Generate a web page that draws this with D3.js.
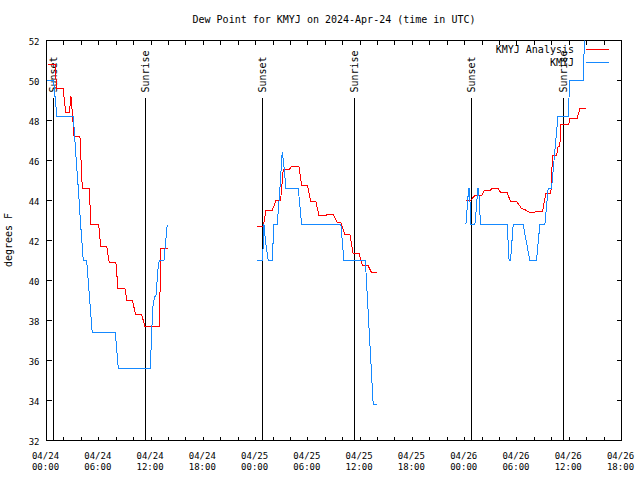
<!DOCTYPE html>
<html><head><meta charset="utf-8">
<script src="https://cdn.jsdelivr.net/npm/d3@7"></script>
<style>
body{margin:0;background:#fff}
svg text{font-family:"DejaVu Sans Mono","Liberation Mono",monospace;fill:#000}
</style></head><body>
<script>
// ---------------- data ----------------
const title = "Dew Point for KMYJ on 2024-Apr-24 (time in UTC)";
const yLabel = "degrees F";
const startTime = Date.UTC(2024, 3, 24, 0, 0);
const endTime = Date.UTC(2024, 3, 26, 18, 0);
const yTicks = [32, 34, 36, 38, 40, 42, 44, 46, 48, 50, 52];
const seriesNames = ["KMYJ Analysis", "KMYJ"];
const seriesColors = ["#ff0000", "#1589ff"];

// [hours since 2024-04-24 00:00 UTC, degrees F]
const analysisSeg1 = [[0.2,50.8],[0.98,50.8],[1.17,49.6],[1.93,49.6],[2.04,49.0],[2.24,48.4],[2.62,48.4],[2.81,49.2],[3.0,48.2],[3.16,47.2],[3.84,47.2],[4.07,45.0],[4.11,44.6],[4.91,44.6],[5.1,42.8],[5.99,42.8],[6.22,41.7],[6.91,41.7],[7.2,40.9],[7.97,40.9],[8.2,39.6],[9.0,39.6],[9.24,39.0],[9.85,39.0],[10.24,38.3],[10.92,38.3],[11.3,37.7],[12.94,37.7],[13.14,41.6],[13.9,41.6]];
const analysisSeg2 = [[24.19,42.7],[24.88,42.7],[25.19,43.5],[25.91,43.5],[26.33,44.0],[26.87,44.0],[27.17,45.55],[27.86,45.55],[28.13,45.7],[28.97,45.7],[29.28,44.75],[29.97,44.75],[30.32,43.95],[30.92,43.95],[31.27,43.25],[32.07,43.25],[32.18,43.3],[32.91,43.3],[33.37,42.9],[33.79,42.9],[34.25,42.3],[34.83,42.3],[35.2,41.33],[35.9,41.33],[36.28,40.73],[36.93,40.73],[37.31,40.4],[37.89,40.4]];
const analysisSeg3 = [[48.14,44.0],[48.67,44.0],[49.17,44.25],[49.94,44.25],[50.24,44.5],[50.97,44.5],[51.08,44.6],[51.84,44.6],[52.12,44.4],[52.88,44.4],[53.26,43.95],[53.95,43.95],[54.53,43.6],[54.9,43.55],[55.17,43.47],[55.48,43.4],[56.05,43.4],[56.1,43.45],[56.93,43.45],[57.12,43.9],[57.31,44.35],[57.89,44.35],[58.08,46.25],[58.54,46.25],[58.73,46.7],[58.92,46.7],[59.04,47.8],[59.95,47.8],[60.07,48.1],[60.91,48.1],[61.22,48.6],[61.87,48.6]];

const obsSeg1 = [[0.0,50.0],[0.8,50.0],[1.2,48.2],[3.08,48.2],[3.35,46.4],[3.65,44.6],[3.92,42.8],[4.22,41.0],[4.61,41.0],[5.25,37.4],[7.9,37.4],[8.24,35.6],[11.91,35.6],[12.19,38.6],[12.4,39.2],[12.56,39.2],[12.8,40.6],[12.95,41.0],[13.48,41.0],[13.86,42.8]];
const obsSeg2 = [[24.19,41.0],[24.8,41.0],[24.96,42.8],[25.15,41.9],[25.45,41.0],[25.91,41.0],[26.1,42.8],[26.49,42.8],[26.79,44.6],[27.05,46.4],[27.2,46.0],[27.48,44.6],[28.9,44.6],[29.28,42.8],[33.79,42.8],[34.14,41.0],[36.6,41.0],[37.5,33.8],[37.89,33.8]];
const obsSeg3 = [[48.14,42.8],[48.3,43.7],[48.45,44.6],[48.55,44.6],[48.71,42.8],[49.17,42.8],[49.36,43.7],[49.5,44.6],[49.6,44.6],[49.82,42.8],[52.88,42.8],[53.1,41.0],[53.26,41.0],[53.57,42.8],[54.71,42.8],[55.48,41.0],[56.24,41.0],[56.63,42.8],[57.2,42.8],[57.58,44.6],[57.97,44.6],[58.7,48.2],[59.87,48.2],[60.07,50.0],[61.6,50.0],[61.87,53.6]];

const sunLabels = ["Sunset", "Sunrise", "Sunset", "Sunrise", "Sunset", "Sunrise"];
const sunHours = [0.8, 11.36, 24.78, 35.34, 48.77, 59.32];

// ---------------- chart ----------------
const W = 640, H = 480;
const L = 46.5, R = 621.5, T = 40.5, B = 440.5;
const toDate = h => new Date(startTime + h * 3600e3);

const svg = d3.select("body").append("svg").attr("width", W).attr("height", H);
const x = d3.scaleUtc().domain([new Date(startTime), new Date(endTime)]).range([L, R]);
const y = d3.scaleLinear().domain([32, 52]).range([B, T]);

svg.append("defs").append("clipPath").attr("id", "clip")
  .append("rect").attr("x", L).attr("y", T).attr("width", R - L).attr("height", B - T);

// axes (inward ticks, mirrored)
const xTickVals = d3.utcHour.every(2).range(new Date(startTime), new Date(endTime + 1));
const gB = svg.append("g").attr("transform", `translate(0,${B})`)
  .call(d3.axisBottom(x).tickValues(xTickVals).tickSize(-4).tickFormat("").offset(0));
const gT = svg.append("g").attr("transform", `translate(0,${T})`)
  .call(d3.axisTop(x).tickValues(xTickVals).tickSize(-4).tickFormat("").offset(0));
const gL = svg.append("g").attr("transform", `translate(${L},0)`)
  .call(d3.axisLeft(y).tickValues(yTicks).tickSize(-5).tickPadding(7).offset(0));
const gR = svg.append("g").attr("transform", `translate(${R},0)`)
  .call(d3.axisRight(y).tickValues(yTicks).tickSize(-5).tickFormat("").offset(0));
[gB, gT, gL, gR].forEach(g => {
  g.select(".domain").remove();
  g.selectAll(".tick line").attr("stroke", "#000").attr("shape-rendering", "crispEdges");
  g.attr("font-family", null).attr("font-size", null);
});
gL.selectAll(".tick text").attr("font-size", 9).attr("dy", "0.5em");

const fmtDay = d3.utcFormat("%m/%d"), fmtHr = d3.utcFormat("%H:%M");
gB.selectAll(".tick").filter(d => d.getUTCHours() % 6 === 0).each(function (d) {
  const t = d3.select(this).select("text").attr("dy", null).attr("y", null)
    .attr("font-size", 9).attr("text-anchor", "middle");
  t.append("tspan").attr("x", -1).attr("y", 18).text(fmtDay(d));
  t.append("tspan").attr("x", -1).attr("y", 29).text(fmtHr(d));
});

// border
svg.append("rect").attr("x", L).attr("y", T).attr("width", R - L).attr("height", B - T)
  .attr("fill", "none").attr("stroke", "#000").attr("shape-rendering", "crispEdges");

// sunrise / sunset markers
const sun = svg.append("g");
sunHours.forEach((h, i) => {
  const sx = Math.round(x(toDate(h)) - 0.5) + 0.5;
  sun.append("line").attr("x1", sx).attr("x2", sx).attr("y1", 98).attr("y2", B)
    .attr("stroke", "#000").attr("shape-rendering", "crispEdges");
  sun.append("text").attr("transform", `translate(${sx},92.5) rotate(-90)`)
    .attr("dy", "0.36em").attr("font-size", 10).attr("text-anchor", "start").text(sunLabels[i]);
});

// series
const line = d3.line().x(d => x(toDate(d[0]))).y(d => y(d[1]));
const plot = svg.append("g").attr("clip-path", "url(#clip)");
const seriesSegs = [[analysisSeg1, analysisSeg2, analysisSeg3], [obsSeg1, obsSeg2, obsSeg3]];
seriesSegs.forEach((segs, i) => {
  segs.forEach(seg => {
    plot.append("path").attr("d", line(seg)).attr("fill", "none")
      .attr("stroke", seriesColors[i]).attr("stroke-width", 1)
      .attr("shape-rendering", "crispEdges");
  });
});

// legend
seriesNames.forEach((name, i) => {
  const ly = 49.5 + 13 * i;
  svg.append("text").attr("x", 574).attr("y", ly).attr("dy", "0.36em")
    .attr("font-size", 10).attr("text-anchor", "end").text(name);
  svg.append("line").attr("x1", 586).attr("x2", 609).attr("y1", ly).attr("y2", ly)
    .attr("stroke", seriesColors[i]).attr("shape-rendering", "crispEdges");
});

// title and y label
svg.append("text").attr("x", (L + R) / 2).attr("y", 23).attr("text-anchor", "middle")
  .attr("font-size", 10).text(title);
svg.append("text").attr("transform", "translate(12,240) rotate(-90)")
  .attr("text-anchor", "middle").attr("font-size", 10).text(yLabel);
</script>
</body></html>
